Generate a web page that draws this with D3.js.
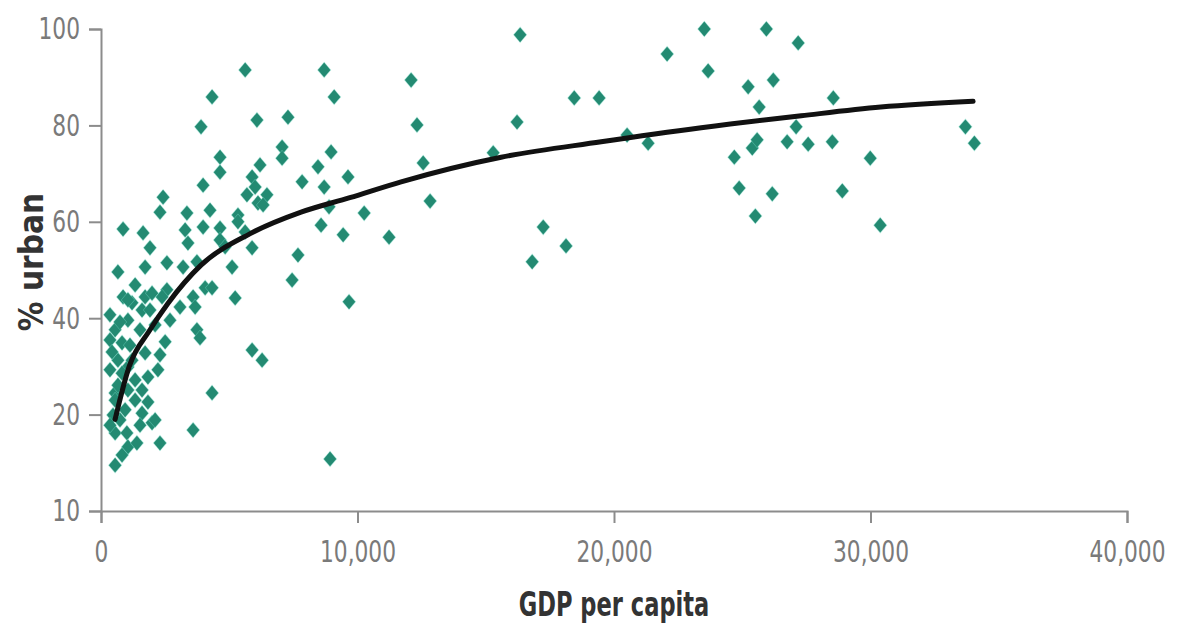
<!DOCTYPE html>
<html>
<head>
<meta charset="utf-8">
<script src="https://cdn.jsdelivr.net/npm/d3@7"></script>
<style>
  html, body { margin: 0; padding: 0; background: #fff; }
  svg { display: block; }
  .tick text { font-family: "Liberation Sans Narrow", "DejaVu Sans Condensed", sans-serif; fill: #7a7a7a; }
  .title { font-family: "Liberation Sans Narrow", "DejaVu Sans Condensed", sans-serif; font-weight: bold; fill: #333; }
</style>
</head>
<body>
<div id="chart"></div>
<script>
/* % urban vs GDP per capita: one diamond per country, black fitted curve on top */

// country points
const gdp = [16340, 16220, 15290, 17240, 16810, 18130, 18450, 19420, 20510, 21330,
  22070, 23520, 23670, 25940, 26210, 25230, 25660, 27180, 24690, 25390,
  25580, 24880, 26170, 25510, 26750, 27100, 27570, 28510, 28550, 29990,
  28900, 30380, 33700, 34050, 12090, 12320, 12560, 12830, 11230, 10260,
  9670, 8930, 9440, 9630, 9090, 8700, 8970, 8460, 7840, 8700,
  8890, 8580, 5620, 4330, 3900, 6080, 7290, 4640, 4640, 7060,
  7060, 6200, 5890, 6010, 5690, 6470, 6120, 3980, 3350, 5340,
  3280, 3390, 3980, 4640, 4640, 4840, 5340, 6320, 5890, 3200,
  3740, 5110, 4060, 4330, 3590, 3670, 5230, 3740, 3860, 5890,
  6280, 7680, 7450, 4330, 3590, 2300, 550, 2420, 2300, 860,
  1640, 1910, 2570, 1720, 1330, 860, 1720, 2570, 2380, 1600,
  2500, 550, 1050, 820, 660, 1050, 1720, 1830, 1330, 550,
  1050, 1600, 550, 940, 1600, 1990, 550, 1010, 1050, 1400,
  2110, 3080, 740, 350, 350, 820, 470, 1210, 2110, 2300,
  1520, 1990, 2690, 350, 740, 430, 1130, 660, 1330, 350,
  820, 1520, 1830, 1210, 2220, 1910, 1050, 660, 5620, 4250];
const urban = [98.8, 80.7, 74.3, 58.9, 51.7, 55.0, 85.7, 85.7, 78.0, 76.3,
  94.8, 100, 91.3, 100, 89.4, 88.0, 83.8, 97.1, 73.4, 75.3,
  77.0, 67.0, 65.8, 61.2, 76.6, 79.7, 76.1, 76.6, 85.7, 73.2,
  66.4, 59.3, 79.7, 76.3, 89.4, 80.1, 72.2, 64.3, 56.8, 61.8,
  43.4, 10.8, 57.3, 69.3, 85.9, 91.5, 74.5, 71.4, 68.3, 67.2,
  63.1, 59.3, 91.5, 85.9, 79.7, 81.1, 81.7, 73.4, 70.3, 75.5,
  73.2, 71.8, 69.3, 67.2, 65.6, 65.6, 63.9, 67.6, 61.8, 61.4,
  58.3, 55.6, 58.9, 58.7, 56.2, 54.8, 60.0, 63.5, 54.6, 50.6,
  51.7, 50.6, 46.3, 46.3, 44.4, 42.3, 44.2, 37.6, 35.9, 33.4,
  31.3, 53.1, 47.9, 24.5, 16.8, 14.1, 9.5, 65.1, 62.0, 58.5,
  57.7, 54.6, 51.5, 50.6, 46.9, 44.4, 44.4, 45.9, 44.4, 41.7,
  35.1, 37.6, 39.6, 34.9, 31.3, 29.9, 32.8, 27.8, 27.2, 24.5,
  25.1, 25.1, 23.0, 21.0, 20.3, 18.3, 16.2, 16.2, 13.3, 14.1,
  18.9, 42.3, 18.9, 35.5, 29.3, 28.6, 19.9, 43.2, 38.6, 32.4,
  37.6, 45.2, 39.6, 40.7, 39.2, 33.0, 34.4, 26.1, 23.0, 17.8,
  11.6, 17.8, 22.6, 31.3, 29.3, 41.7, 43.8, 49.6, 57.9, 62.4];

// fitted curve
const fitGdp = [550, 1100, 1900, 2600, 3900, 5800, 7800, 9700, 11700, 15600, 19500, 23400, 27300, 30400, 34000];
const fitUrban = [19, 30, 37.5, 43, 51, 57.5, 62, 65, 68.3, 73.4, 76.6, 79.5, 82, 83.8, 85];

const xTicks = [0, 10000, 20000, 30000, 40000];
const yTicks = [0, 20, 40, 60, 80, 100];
const yTickLabels = ['10', '20', '40', '60', '80', '100'];   // bottom label prints as 10 in the source

const W = 1178, H = 630;
const NARROW = 0.78;   // squeeze the condensed fallback down to the source's narrow face
const svg = d3.select('#chart').append('svg').attr('width', W).attr('height', H);

const x = d3.scaleLinear().domain([0, 40000]).range([101, 1127]);
const y = d3.scaleLinear().domain([0, 100]).range([511, 29]);

// axes
const xAxis = svg.append('g').attr('transform', 'translate(0,' + y(0) + ')')
  .call(d3.axisBottom(x).tickValues(xTicks).tickFormat(d3.format(',')).tickSize(12).tickPadding(17));
const yAxis = svg.append('g').attr('transform', 'translate(' + x(0) + ',0)')
  .call(d3.axisLeft(y).tickValues(yTicks).tickFormat((d, i) => yTickLabels[i]).tickSize(12).tickPadding(9));
[xAxis, yAxis].forEach(g => {
  g.selectAll('.domain, .tick line').attr('stroke', '#8c8c8c').attr('stroke-width', 2);
  g.selectAll('.tick text').style('font-size', '31px').attr('transform', 'scale(' + NARROW + ',1)');
});
yAxis.selectAll('.tick text').attr('x', -21 / NARROW);

// diamonds, a little wider than d3's own, with a soft halo like the source
const diamond = {
  draw(ctx, size){
    const h = Math.sqrt(size) * 0.72, w = h * 0.85;
    ctx.moveTo(0, -h); ctx.lineTo(w, 0); ctx.lineTo(0, h); ctx.lineTo(-w, 0); ctx.closePath();
  }
};
const pts = gdp.map((g, i) => ({ g, u: urban[i] }));
svg.append('g').selectAll('path').data(pts).join('path')
  .attr('transform', d => 'translate(' + x(d.g) + ',' + y(d.u) + ')')
  .attr('d', d3.symbol().type(diamond).size(105))
  .attr('fill', '#238a72')
  .attr('stroke', '#6fd6c0').attr('stroke-width', 1.2).attr('stroke-opacity', 0.55)
  .attr('paint-order', 'stroke');

// trend curve
const line = d3.line().x(d => x(d[0])).y(d => y(d[1])).curve(d3.curveMonotoneX);
svg.append('path').datum(fitGdp.map((g, i) => [g, fitUrban[i]]))
  .attr('d', line).attr('fill', 'none').attr('stroke', '#111').attr('stroke-width', 5)
  .attr('stroke-linecap', 'round');

// titles
const midX = (x(0) + x(40000)) / 2;
svg.append('text').attr('class', 'title').attr('transform', 'translate(' + midX + ',616) scale(0.76,1)')
  .attr('text-anchor', 'middle').style('font-size', '33px').text('GDP per capita');
svg.append('text').attr('class', 'title').attr('transform', 'translate(43,262) rotate(-90)')
  .attr('text-anchor', 'middle').style('font-size', '33px').text('% urban');
</script>
</body>
</html>
